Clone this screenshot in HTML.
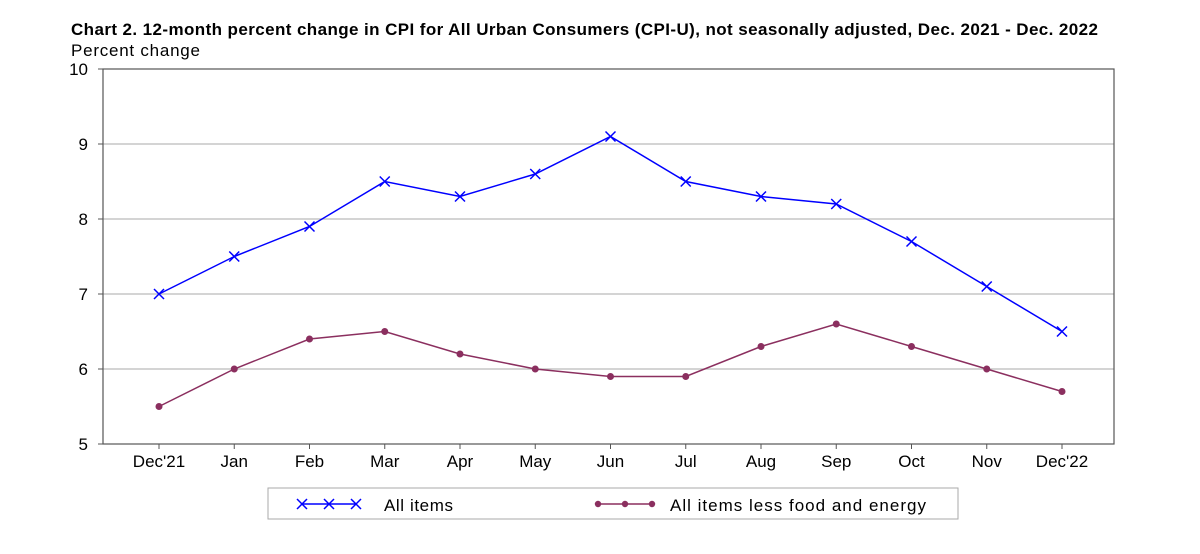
<!DOCTYPE html>
<html><head><meta charset="utf-8">
<style>
body{margin:0;background:#fff;width:1200px;height:549px;overflow:hidden;font-family:"Liberation Sans",sans-serif}
</style></head>
<body>
<svg id="chart" width="1200" height="549" xmlns="http://www.w3.org/2000/svg" font-family="Liberation Sans, sans-serif">
<text x="71" y="35" font-size="17" font-weight="bold" fill="#000" textLength="1027" lengthAdjust="spacing">Chart 2. 12-month percent change in CPI for All Urban Consumers (CPI-U), not seasonally adjusted, Dec. 2021 - Dec. 2022</text>
<text x="71" y="56" font-size="17" fill="#000" textLength="129">Percent change</text>
<g id="grid"></g>
<rect x="103" y="69" width="1011" height="375" fill="none" stroke="#555" stroke-width="1.2"/>
<g id="axes"></g>
<g id="series"></g>
<g>
<rect x="268" y="488" width="690" height="31" fill="#fff" stroke="#aaa"/>
<line x1="302" y1="504" x2="356" y2="504" stroke="#0000ff" stroke-width="1.5"/>
<text x="384" y="511" font-size="17" textLength="69">All items</text>
<line x1="598" y1="504" x2="652" y2="504" stroke="#8b2f5f" stroke-width="1.5"/>
<circle cx="598" cy="504" r="3.2" fill="#8b2f5f"/><circle cx="625" cy="504" r="3.2" fill="#8b2f5f"/><circle cx="652" cy="504" r="3.2" fill="#8b2f5f"/>
<text x="670" y="511" font-size="17" textLength="256" lengthAdjust="spacing">All items less food and energy</text>
<g id="legx"></g>
</g>
</svg>
<script>
const categories=["Dec'21","Jan","Feb","Mar","Apr","May","Jun","Jul","Aug","Sep","Oct","Nov","Dec'22"];
const allItems=[7.0,7.5,7.9,8.5,8.3,8.6,9.1,8.5,8.3,8.2,7.7,7.1,6.5];
const coreItems=[5.5,6.0,6.4,6.5,6.2,6.0,5.9,5.9,6.3,6.6,6.3,6.0,5.7];
const yTicks=[5,6,7,8,9,10];
const NS="http://www.w3.org/2000/svg";
const x=i=>159+i*(1062-159)/(categories.length-1);
const y=v=>444-(v-5)*75;
function mk(t,a,p){const e=document.createElementNS(NS,t);for(const k in a)e.setAttribute(k,a[k]);p.appendChild(e);return e;}
const grid=document.getElementById('grid'),axes=document.getElementById('axes'),ser=document.getElementById('series');
yTicks.forEach(v=>{
 if(v>5&&v<10){const g=mk('line',{x1:103,x2:1114,y1:y(v),y2:y(v),stroke:'#bbb','stroke-width':1.2},grid);
 
 }
 const t=mk('text',{x:88,y:y(v)+6,'font-size':17,'text-anchor':'end'},axes);t.textContent=v;
 
 
 mk('line',{x1:98,x2:103,y1:y(v),y2:y(v),stroke:'#555'},axes);
});
categories.forEach((c,i)=>{
 mk('line',{x1:x(i),x2:x(i),y1:444,y2:449,stroke:'#555'},axes);
 const t=mk('text',{x:x(i),y:467,'font-size':17,'text-anchor':'middle'},axes);t.textContent=c;
 
 
});
function line(vals,col,name){
 const p=mk('polyline',{points:vals.map((v,i)=>x(i)+','+y(v)).join(' '),fill:'none',stroke:col,'stroke-width':1.5},ser);
 
 
}
line(allItems,'#0000ff','all-items');
line(coreItems,'#8b2f5f','core-items');
function cross(cx,cy,g){mk('path',{d:`M${cx-5},${cy-5}L${cx+5},${cy+5}M${cx-5},${cy+5}L${cx+5},${cy-5}`,stroke:'#0000ff','stroke-width':1.5},g);}
allItems.forEach((v,i)=>{const g=mk('g',{},ser);
 
 
 cross(x(i),y(v),g);});
coreItems.forEach((v,i)=>{const c=mk('circle',{cx:x(i),cy:y(v),r:3.5,fill:'#8b2f5f'},ser);
 
 });
const lg=document.getElementById('legx');[302,329,356].forEach(px=>cross(px,504,lg));
</script>
</body></html>
